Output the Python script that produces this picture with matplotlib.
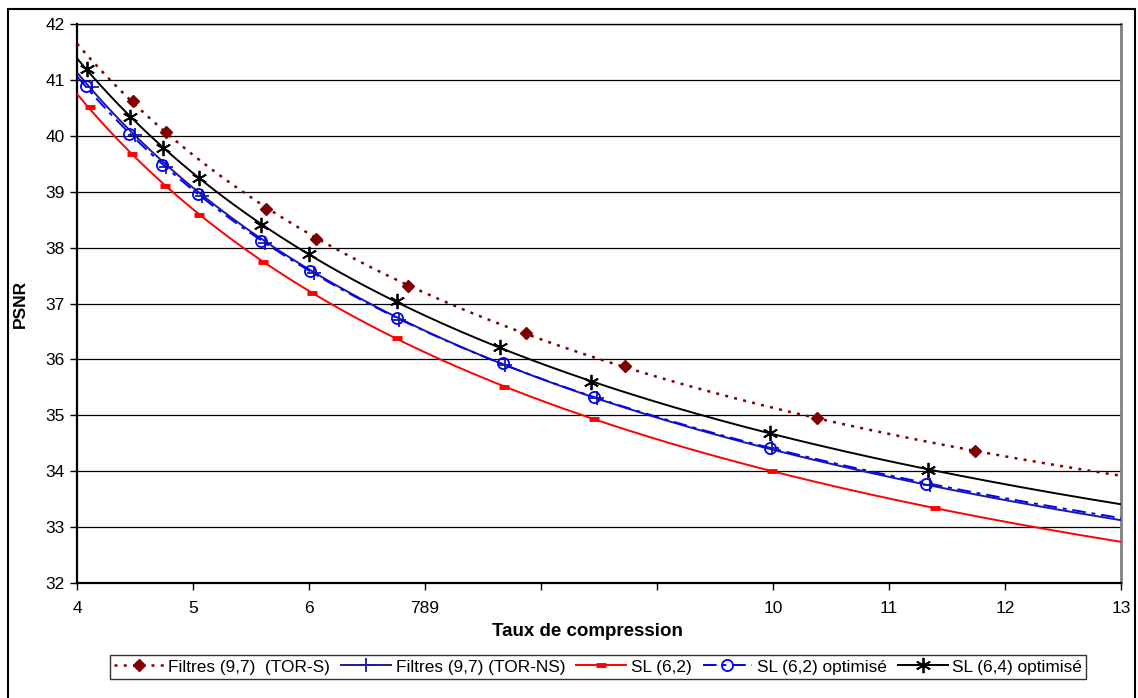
import numpy as np
import matplotlib
matplotlib.use("Agg")
import matplotlib.pyplot as plt
from matplotlib.patches import Rectangle

plt.rcParams['font.family'] = ['Liberation Sans', 'DejaVu Sans']

# data (compression ratio, PSNR)
tors_x = [4.48, 4.77, 5.63, 6.06, 6.85, 7.87, 8.72, 10.38, 11.74]
tors_y = [40.62, 40.07, 38.69, 38.15, 37.31, 36.47, 35.88, 34.96, 34.36]

torns_x = [4.13, 4.50, 4.77, 5.08, 5.62, 6.04, 6.78, 7.69, 8.48, 9.99, 11.35]
torns_y = [40.88, 40.01, 39.45, 38.92, 38.09, 37.54, 36.71, 35.90, 35.31, 34.42, 33.75]

sl62_x = [4.11, 4.47, 4.76, 5.05, 5.60, 6.03, 6.76, 7.68, 8.46, 9.99, 11.40]
sl62_y = [40.51, 39.67, 39.11, 38.58, 37.75, 37.18, 36.38, 35.51, 34.93, 34.01, 33.34]

sl62o_x = [4.08, 4.45, 4.73, 5.04, 5.59, 6.01, 6.76, 7.67, 8.46, 9.97, 11.32]
sl62o_y = [40.89, 40.04, 39.48, 38.96, 38.12, 37.59, 36.74, 35.94, 35.33, 34.42, 33.77]

sl64o_x = [4.09, 4.46, 4.74, 5.05, 5.59, 6.00, 6.76, 7.65, 8.43, 9.97, 11.34]
sl64o_y = [41.19, 40.33, 39.78, 39.25, 38.40, 37.88, 37.04, 36.22, 35.60, 34.68, 34.03]

xticks = [4, 5, 6, 7, 8, 9, 10, 11, 12, 13]
xtick_labels = ['4', '5', '6', '789', '', '', '10', '11', '12', '13']
yticks = list(range(32, 43))

series = [
    ("Filtres (9,7)  (TOR-S)", tors_x, tors_y,
     dict(color='#800000', ls=(0, (1.2, 2.5)), lw=1.8, marker='D', ms=6,
          mfc='#800000', mec='#800000')),
    ("Filtres (9,7) (TOR-NS)", torns_x, torns_y,
     dict(color='#1a1aa0', ls='-', lw=1.4, marker='+', ms=10, mew=1.3,
          mec='#1a1aa0')),
    ("SL (6,2)", sl62_x, sl62_y,
     dict(color='#ff0000', ls='-', lw=1.4, marker='_', ms=7, mew=3.5,
          mec='#ff0000')),
    ("SL (6,2) optimisé", sl62o_x, sl62o_y,
     dict(color='#0000ff', ls=(0, (7, 3, 2, 3)), lw=1.4, marker='o', ms=8,
          mfc='none', mec='#0000ff', mew=1.3)),
    ("SL (6,4) optimisé", sl64o_x, sl64o_y,
     dict(color='black', ls='-', lw=1.4, marker=(6, 2, 0), ms=11, mew=1.3,
          mec='black')),
]

fig = plt.figure(figsize=(11.38, 6.98), dpi=100)
ax = fig.add_axes([77 / 1138, 1 - 583 / 698, 1044 / 1138, 559 / 698])

xx = np.linspace(4, 13, 300)
handles = []
for name, xs, ys, st in series:
    xs = np.array(xs)
    ys = np.array(ys)
    # trend curve fitted on the points: y = a + b * x^-0.7
    coef = np.polyfit(xs ** -0.7, ys, 1)
    ax.plot(xx, np.polyval(coef, xx ** -0.7), color=st['color'], ls=st['ls'],
            lw=st['lw'], zorder=3)
    mk = {k: v for k, v in st.items() if k not in ('ls', 'lw', 'color')}
    ax.plot(xs, ys, ls='none', zorder=4, **mk)
    h, = ax.plot([], [], **st)
    handles.append(h)

ax.set_xlim(4, 13)
ax.set_ylim(32, 42)
ax.set_xticks(xticks)
ax.set_xticklabels(xtick_labels)
ax.set_yticks(yticks)
ax.yaxis.grid(True, color='black', lw=0.9)
ax.set_axisbelow(True)
ax.tick_params(direction='out', length=5, width=1, labelsize=12.5, colors='black')
ax.tick_params(axis='x', pad=8)
ax.tick_params(axis='y', pad=4)

for s in ['left', 'bottom']:
    ax.spines[s].set_linewidth(1.6)
ax.spines['top'].set_linewidth(1)
ax.spines['right'].set_color('#808080')
ax.spines['right'].set_linewidth(2)

ax.set_xlabel("Taux de compression", fontsize=13.5, fontweight='bold')
ax.set_ylabel("PSNR", fontsize=12.5, fontweight='bold')
ax.xaxis.set_label_coords(0.489, -0.071)
ax.yaxis.set_label_coords(-0.047, 0.5)

leg = fig.legend(handles=handles, labels=[s[0] for s in series], ncol=5,
                 loc='center', bbox_to_anchor=(598 / 1138, 1 - 667 / 698),
                 fontsize=12.4, frameon=True, fancybox=False, handlelength=2.9,
                 columnspacing=0.65, handletextpad=0.25, borderpad=0.25,
                 borderaxespad=0)
leg.get_frame().set_edgecolor('black')
leg.get_frame().set_linewidth(1)

fig.add_artist(Rectangle((8 / 1138, -0.05), 1127 / 1138, 1.05 - 9 / 698,
                         transform=fig.transFigure, fill=False,
                         edgecolor='black', lw=1.5))

fig.savefig("out.png", dpi=100)
